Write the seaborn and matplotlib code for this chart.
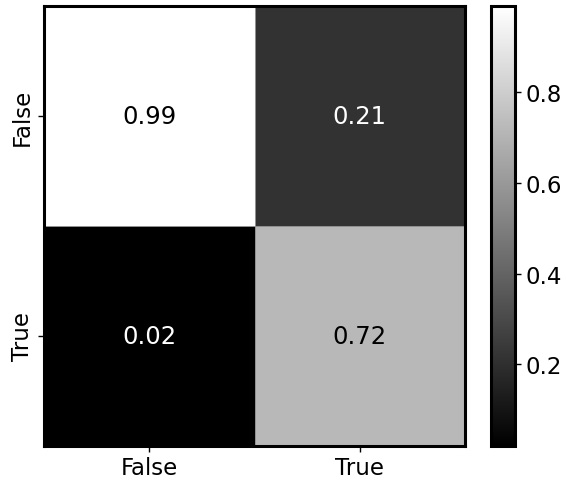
import numpy as np
import pandas as pd
import matplotlib
matplotlib.use("Agg")
import matplotlib.pyplot as plt
import seaborn as sns

# Row / column labels and normalised confusion values
labels = ["False", "True"]
row_false = [0.99, 0.21]
row_true = [0.02, 0.72]

df = pd.DataFrame([row_false, row_true], index=labels, columns=labels)

sns.set_style("white")
plt.rcParams["font.family"] = ["DejaVu Sans"]
plt.rcParams["text.color"] = "black"
plt.rcParams["xtick.color"] = "black"
plt.rcParams["ytick.color"] = "black"
plt.rcParams["axes.labelcolor"] = "black"

fig = plt.figure(figsize=(5.66, 4.81), dpi=100)
ax = fig.add_axes([44 / 566, 34 / 481, 421 / 566, 440 / 481])
cax = fig.add_axes([491 / 566, 34 / 481, 24 / 566, 440 / 481])

sns.heatmap(df, ax=ax, cbar_ax=cax, cmap="gray", annot=True, fmt=".2f",
            annot_kws={"fontsize": 17.5}, linewidths=0.6, linecolor="#909090")

# dark annotation text on light cells in pure black
for t in ax.texts:
    if t.get_color() != "w":
        t.set_color("black")

ax.tick_params(axis="both", labelsize=16.5, length=4, width=1, color="black",
               labelcolor="black", bottom=True, left=True)
for side in ["top", "right", "bottom", "left"]:
    ax.spines[side].set_visible(True)
    ax.spines[side].set_linewidth(2.2)
    ax.spines[side].set_color("black")

cbar = ax.collections[0].colorbar
cbar.set_ticks([0.2, 0.4, 0.6, 0.8])
cax.tick_params(labelsize=16.5, length=4, width=1, color="black",
                labelcolor="black", right=True)
cbar.outline.set_visible(True)
cbar.outline.set_linewidth(2.2)
cbar.outline.set_edgecolor("black")

fig.savefig("out.png", dpi=100)
